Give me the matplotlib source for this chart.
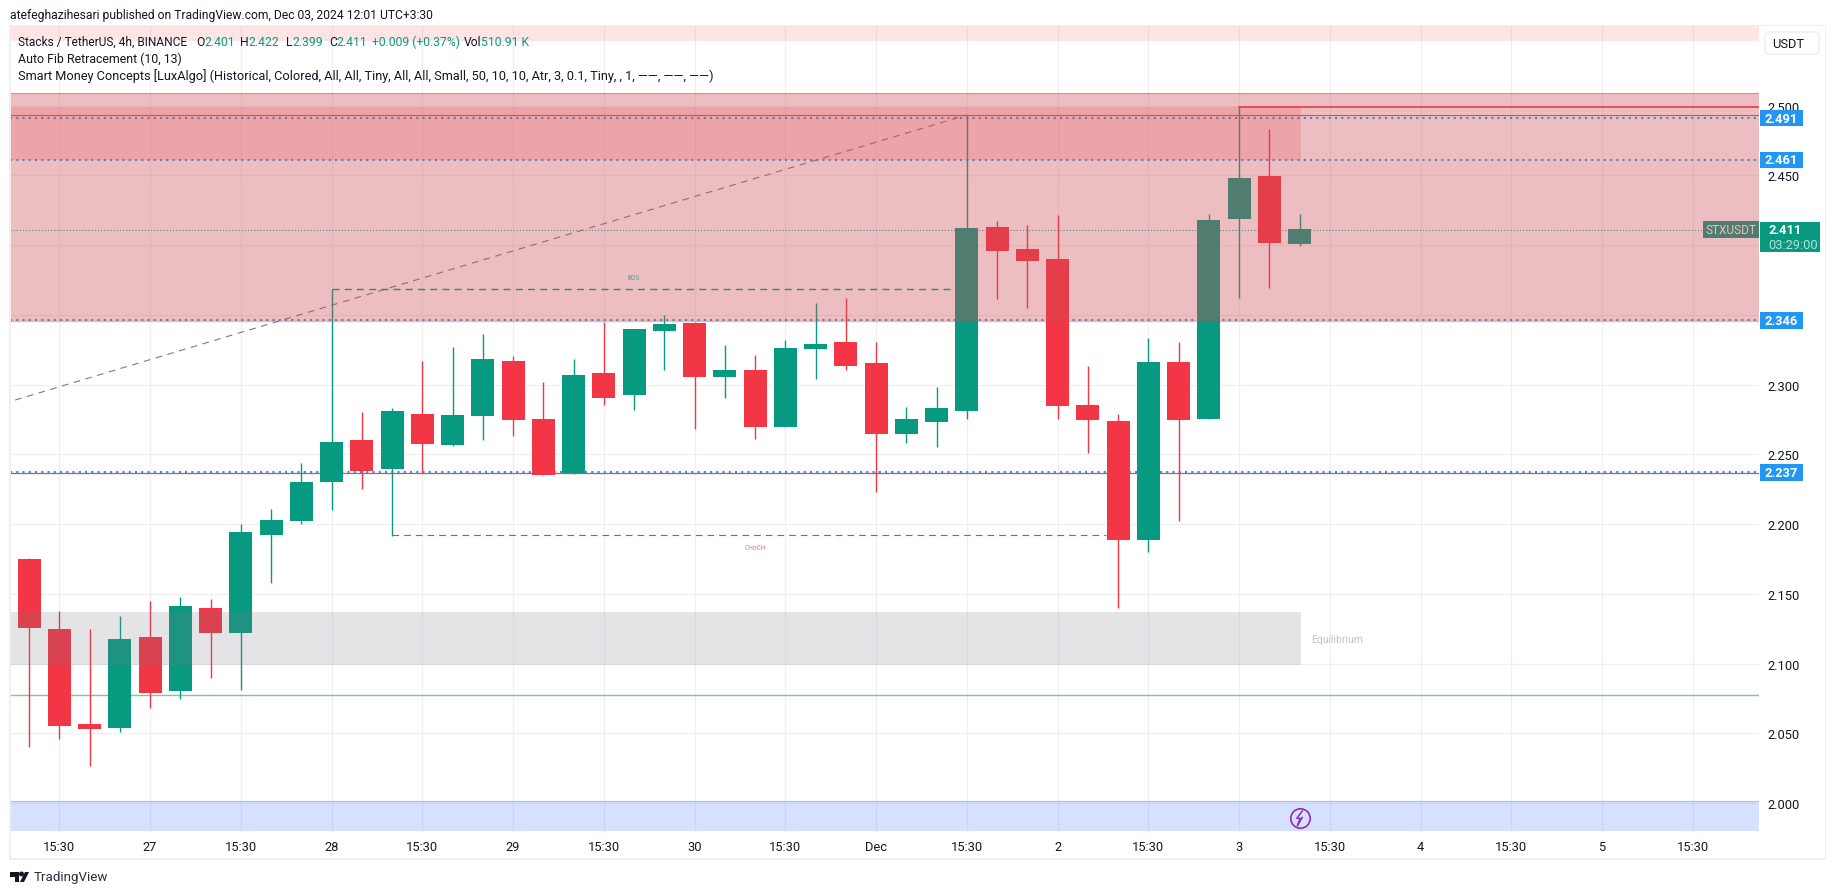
import matplotlib
matplotlib.use("Agg")
import matplotlib.pyplot as plt
from matplotlib.patches import Rectangle, Ellipse, Polygon, FancyBboxPatch
from matplotlib.transforms import blended_transform_factory

W, H = 1835, 895
plt.rcParams["font.family"] = ["Roboto", "DejaVu Sans"]

# candles: body top, body bottom, high, low
is_green = [0, 0, 0, 1, 0, 1, 0, 1, 1, 1, 1, 0, 1, 0, 1, 1, 0, 0, 1, 0, 1, 1,
            0, 1, 0, 1, 1, 0, 0, 1, 1, 1, 0, 0, 0, 0, 0, 1, 0, 1, 1, 0, 1]
body_top = [2.1749, 2.1248, 2.0566, 2.1176, 2.1190, 2.1413, 2.1398, 2.1943, 2.2029, 2.2301, 2.2588,
            2.2602, 2.2810, 2.2789, 2.2782, 2.3183, 2.3169, 2.2753, 2.3068, 2.3083, 2.3398, 2.3434,
            2.3441, 2.3104, 2.3104, 2.3262, 2.3291, 2.3305, 2.3154, 2.2753, 2.2832, 2.4122, 2.4129,
            2.3972, 2.3900, 2.2853, 2.2739, 2.3162, 2.3162, 2.4179, 2.4480, 2.4495, 2.4115]
body_bottom = [2.1255, 2.0552, 2.0531, 2.0538, 2.0789, 2.0803, 2.1219, 2.1219, 2.1921, 2.2022, 2.2301,
               2.2380, 2.2394, 2.2574, 2.2566, 2.2774, 2.2746, 2.2352, 2.2366, 2.2903, 2.2925, 2.3384,
               2.3054, 2.3054, 2.2696, 2.2696, 2.3255, 2.3133, 2.2646, 2.2646, 2.2732, 2.2810, 2.3957,
               2.3886, 2.2846, 2.2746, 2.1886, 2.1886, 2.2746, 2.2753, 2.4187, 2.4014, 2.4007]
highs = [2.1757, 2.1377, 2.1248, 2.1341, 2.1448, 2.1477, 2.1463, 2.2000, 2.2108, 2.2438, 2.3683,
         2.2803, 2.2832, 2.3169, 2.3269, 2.3362, 2.3204, 2.3018, 2.3183, 2.3448, 2.3398, 2.3498,
         2.3450, 2.3283, 2.3212, 2.3319, 2.3585, 2.3620, 2.3305, 2.2839, 2.2982, 2.4932, 2.4172,
         2.4144, 2.4215, 2.3133, 2.2789, 2.3334, 2.3305, 2.4222, 2.4987, 2.4832, 2.4222]
lows = [2.0404, 2.0459, 2.0265, 2.0511, 2.0681, 2.0746, 2.0896, 2.0810, 2.1577, 2.2000, 2.2101,
        2.2251, 2.1917, 2.2366, 2.2559, 2.2602, 2.2631, 2.2352, 2.2359, 2.2853, 2.2817, 2.3104,
        2.2681, 2.2903, 2.2610, 2.2696, 2.3040, 2.3104, 2.2230, 2.2581, 2.2552, 2.2753, 2.3613,
        2.3549, 2.2753, 2.2509, 2.1401, 2.1800, 2.2022, 2.2753, 2.3620, 2.3692, 2.3993]

time_pos = [1, 4, 7, 10, 13, 16, 19, 22, 25, 28, 31, 34, 37, 40, 43, 46, 49, 52, 55]
time_labels = ["15:30", "27", "15:30", "28", "15:30", "29", "15:30", "30", "15:30", "Dec",
               "15:30", "2", "15:30", "3", "15:30", "4", "15:30", "5", "15:30"]
price_ticks = [2.0, 2.05, 2.1, 2.15, 2.2, 2.25, 2.3, 2.35, 2.4, 2.45, 2.5]

level_tags = [2.491, 2.461, 2.346, 2.237]
last_price = 2.411
bos_level, bos_from, bos_to = 2.3683, 10, 30.5
choch_level, choch_from, choch_to = 2.1919, 12, 35.6
fib_x, fib_y = [-0.46, 31], [2.2889, 2.4932]

GREEN = "#089981"
RED = "#F23645"
BLUE = "#2196F3"
TEXT = "#131722"

fig = plt.figure(figsize=(W / 100, H / 100), dpi=100)
ax = fig.add_axes([10 / W, 1 - 832 / H, 1749 / W, 805 / H])
ax.set_xlim(-0.63, 57.19)
ax.set_ylim(1.98, 2.557)
ax.set_axisbelow(True)
ax.grid(True, color="#F0F0F3", lw=0.9)
for s in ax.spines.values():
    s.set_visible(False)
ax.yaxis.tick_right()
ax.set_yticks(price_ticks)
ax.set_yticklabels(["%.3f" % p for p in price_ticks], fontsize=9.3, color=TEXT)
ax.set_xticks(time_pos)
ax.set_xticklabels(time_labels, fontsize=9.3, color=TEXT)
ax.tick_params(axis="both", length=0)
ax.tick_params(axis="y", pad=6)
ax.tick_params(axis="x", pad=6.5)

# levels under the candles
ax.axhline(2.2365, color="#F7433F", lw=0.9, zorder=2)
for p in level_tags:
    ax.axhline(p, color=BLUE, lw=1.5, ls=(0, (1, 2)), zorder=2.2)
ax.axhline(2.0772, color="#7DC98A", lw=1.0, zorder=2)
ax.axhline(2.4932, color="#787B86", lw=0.8, zorder=2)
ax.hlines(last_price, -0.63, 55.3, color=GREEN, lw=0.75, ls=(0, (1, 2)), zorder=2)
ax.plot(fib_x, fib_y, color="#787B86", lw=0.8, ls=(0, (6, 5)), zorder=2.5)
ax.hlines(choch_level, choch_from, choch_to, color=RED, lw=0.8, ls=(0, (6, 4.5)), zorder=2.5)

# candles
for i in range(len(body_top)):
    c = GREEN if is_green[i] else RED
    ax.vlines(i, lows[i], highs[i], color=c, lw=1.0, zorder=3)
    ax.bar(i, body_top[i] - body_bottom[i], bottom=body_bottom[i], width=0.76, color=c, lw=0, zorder=3)

ax.text(24.0, 2.1834, "CHoCH", fontsize=4.8, color=RED, alpha=0.7, ha="center", va="center", zorder=3)
ax.text(42.4, 2.1173, "Equilibrium", fontsize=7.5, color="#C3C4C9", ha="left", va="center", zorder=3)

# symbol tag sits under the zone, that is why it looks washed out
px = blended_transform_factory(ax.transAxes, ax.transData)
ax.add_patch(Rectangle(((1703 - 10) / 1749, last_price - 8.5 / 1395), 56 / 1749, 17 / 1395,
                       transform=px, color=GREEN, lw=0, zorder=3))
ax.text((1731 - 10) / 1749, last_price, "STXUSDT", transform=px, fontsize=8.6, color="white",
        ha="center", va="center", zorder=3)

# zones, drawn on top of everything
ax.axhspan(2.3455, 2.509, color="#CE4D55", alpha=0.364, lw=0, zorder=5)
ax.axhspan(2.5468, 2.56, color=RED, alpha=0.13, lw=0, zorder=5)
ax.fill_between([-0.63, 42.05], 2.461, 2.4987, color=RED, alpha=0.19, lw=0, zorder=5)
ax.fill_between([-0.63, 42.05], 2.0992, 2.1370, color="#787B86", alpha=0.2, lw=0, zorder=5)
ax.axhspan(1.97, 2.0013, color="#2962FF", alpha=0.19, lw=0, zorder=5)
ax.axhline(2.509, color=RED, alpha=0.4, lw=0.9, zorder=5)
ax.axhline(2.3455, color=RED, alpha=0.4, lw=0.9, zorder=5)
ax.axhline(2.0013, color="#2962FF", alpha=0.25, lw=0.9, zorder=5)
ax.axhline(2.5468, color=RED, alpha=0.12, lw=0.9, zorder=5)

# these stay readable on top of the zone
ax.plot([40, 57.19], [2.4987, 2.4987], color=RED, lw=1.2, zorder=5.5)
ax.plot([bos_from, bos_to], [bos_level, bos_level], color="#2E8B74", lw=1.0, ls=(0, (5, 3.8)), zorder=5.5)
ax.text(20.0, bos_level + 0.0087, "BOS", fontsize=4.8, color="#4FA593", ha="center", va="center", zorder=5.5)

# price tags on the scale
for p in level_tags:
    ax.add_patch(Rectangle(((1760 - 10) / 1749, p - 8.4 / 1395), 43 / 1749, 16.8 / 1395,
                           transform=px, color=BLUE, lw=0, zorder=6, clip_on=False))
    ax.text((1781.5 - 10) / 1749, p, "%.3f" % p, transform=px, fontsize=9.3, fontweight="bold",
            color="white", ha="center", va="center", zorder=7, clip_on=False)
ax.add_patch(Rectangle(((1760 - 10) / 1749, last_price - 22.7 / 1395), 60 / 1749, 30.7 / 1395,
                       transform=px, color=GREEN, lw=0, zorder=6, clip_on=False))
ax.text((1768 - 10) / 1749, last_price, "%.3f" % last_price, transform=px, fontsize=9.3, fontweight="bold",
        color="white", ha="left", va="center", zorder=7, clip_on=False)
ax.text((1768 - 10) / 1749, last_price - 14.5 / 1395, "03:29:00", transform=px, fontsize=9.3,
        color="#B5E1D7", ha="left", va="center", zorder=7, clip_on=False)

# lightning mark on the bottom band
bolt_x, bolt_y = 42, 1.9893
ax.plot([bolt_x], [bolt_y], "o", ms=14, mfc="none", mec="#8E2FB5", mew=1.2, zorder=6)
ax.plot([bolt_x + 0.09, bolt_x - 0.09, bolt_x + 0.02, bolt_x - 0.07, bolt_x + 0.09],
        [bolt_y + 0.0050, bolt_y - 0.0002, bolt_y - 0.0002, bolt_y - 0.0055, bolt_y + 0.0004],
        color="#8E2FB5", lw=1.1, zorder=6)


def put(x, y, s, color=TEXT, size=9.2, **kw):
    fig.text(x / W, 1 - y / H, s, color=color, fontsize=size, va="center", **kw)


# chart frame
frame = "#EEEEF3"
for x0, y0, w, h in [(9, 26, 1817, 1), (9, 859, 1817, 2), (9, 26, 1.5, 835), (1824.5, 26, 1.5, 835)]:
    fig.add_artist(Rectangle((x0 / W, 1 - (y0 + h) / H), w / W, h / H, transform=fig.transFigure,
                             color=frame, lw=0))

put(10, 15, "atefeghazihesari published on TradingView.com, Dec 03, 2024 12:01 UTC+3:30", size=8.7)

put(18, 42, "Stacks / TetherUS, 4h, BINANCE", size=8.6)
for x, s, c in [(196, "O", TEXT), (204, "2.401", GREEN), (240, "H", TEXT), (248.5, "2.422", GREEN),
                (285.7, "L", TEXT), (292, "2.399", GREEN), (329, "C", TEXT), (336, "2.411", GREEN),
                (372.4, "+0.009 (+0.37%)", GREEN), (464, "Vol", TEXT), (481, "510.91 K", GREEN)]:
    put(x, 42, s, color=c, size=8.7)
put(18, 59, "Auto Fib Retracement (10, 13)", size=8.9)
put(18, 76, "Smart Money Concepts [LuxAlgo] (Historical, Colored, All, All, Tiny, All, All, Small, 50, 10, 10, "
            "Atr, 3, 0.1, Tiny, , 1, \u2014\u2014, \u2014\u2014, \u2014\u2014)", size=9.2)

# USDT button
fig.add_artist(FancyBboxPatch((1765 / W, 1 - 55 / H), 54 / W, 22 / H, transform=fig.transFigure,
                              boxstyle="round,pad=0,rounding_size=0.002", fc="white", ec="#EFF1F6", lw=1.3,
                              mutation_aspect=2))
put(1772, 44.5, "USDT", size=9.3)

# TradingView footer logo
logo = "#131722"
fig.add_artist(Polygon([(10 / W, 1 - 873 / H), (19 / W, 1 - 873 / H), (19 / W, 1 - 883 / H), (15 / W, 1 - 883 / H),
                        (15 / W, 1 - 878 / H), (10 / W, 1 - 878 / H)], transform=fig.transFigure, color=logo, lw=0))
fig.add_artist(Ellipse((21.5 / W, 1 - 875 / H), 5 / W, 5 / H, transform=fig.transFigure, color=logo, lw=0))
fig.add_artist(Polygon([(25 / W, 1 - 873 / H), (29 / W, 1 - 873 / H), (24 / W, 1 - 883 / H), (20 / W, 1 - 883 / H)],
                       transform=fig.transFigure, color=logo, lw=0))
put(33.5, 878, "TradingView", size=9.6, color="#2A2E39")

fig.savefig("out.png", dpi=100)
